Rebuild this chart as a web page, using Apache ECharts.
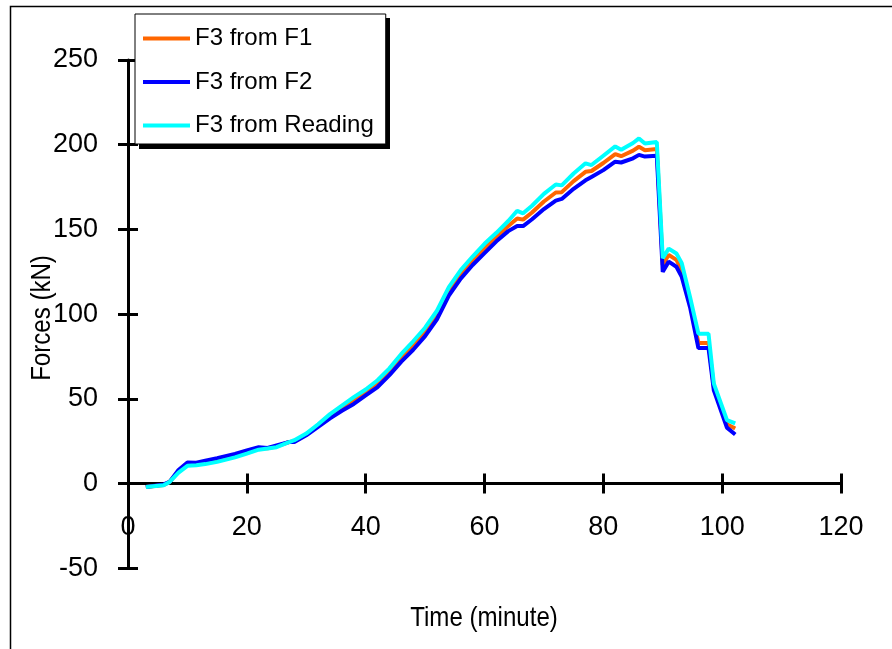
<!DOCTYPE html>
<html>
<head>
<meta charset="utf-8">
<script src="https://cdn.jsdelivr.net/npm/echarts@6/dist/echarts.min.js"></script>
<style>
html,body{margin:0;padding:0;background:#fff;}
#chart{width:892px;height:649px;}
</style>
</head>
<body>
<div id="chart"></div>
<script>
const timeMin = [3, 6, 7, 8.5, 10, 11.5, 13, 15, 18, 20, 22, 23.5, 25, 27, 28, 30, 32, 34, 36, 38, 40, 42, 44, 46, 48, 50, 52, 54, 56, 58, 60, 62, 64, 65.5, 66.5, 68, 70, 72, 73, 75, 77, 78, 80, 82, 83, 85, 86, 87, 89, 90, 91, 92.3, 93.2, 94.6, 96, 97.7, 98.6, 100.8, 102.2];
const f3FromF1 = [-2, -0.8, 1, 7.2, 11.5, 11.6, 12.5, 14, 16.5, 18.6, 20.8, 20.8, 22, 24.4, 25, 29, 34.2, 39.8, 44.5, 49, 53.8, 59, 66, 74.2, 81.5, 89.5, 99.5, 113.5, 123.5, 131.5, 138.8, 145.5, 152, 156.5, 155.8, 160, 166.5, 171.8, 172, 178.5, 184, 184.5, 189.2, 194.5, 193.2, 196.5, 198.8, 196.8, 197.5, 129, 135, 132, 126, 107, 83, 83, 57, 35, 32.5];
const f3FromF2 = [-2, -0.5, 1, 8, 12.5, 12.3, 13.5, 15, 17.5, 19.5, 21.5, 21, 22.5, 24.5, 24.5, 28.5, 33.5, 38.5, 43, 47, 52, 57, 64, 72, 79, 87, 97, 111, 121, 129, 136, 143, 149, 152, 152, 156, 162, 167, 168, 174, 179, 181, 185, 190, 189.5, 192, 194, 193, 193.5, 125, 131, 128, 122, 104, 80, 80, 55, 33, 29];
const f3FromReading = [-2, -1, 1, 6.5, 10.5, 10.8, 11.5, 12.8, 15.5, 17.7, 20, 20.7, 21.5, 24.3, 25.6, 29.5, 35, 41, 46, 51, 55.5, 61, 68, 76.5, 84, 92, 102, 116, 126, 134, 141.5, 148, 155, 161, 159.5, 164, 171, 176.5, 176, 183, 189, 188, 193.5, 199, 197, 201, 203.7, 200.7, 201.6, 133, 138.7, 135.8, 130, 110, 88.5, 88.5, 59, 37.5, 35.5];
const seriesNames = ['F3 from F1', 'F3 from F2', 'F3 from Reading'];
const seriesColors = ['#FF6600', '#0000FF', '#00FFFF'];
const xTitle = 'Time (minute)';
const yTitle = 'Forces (kN)';

const FONT = '"Liberation Sans", Arial, sans-serif';
const chart = echarts.init(document.getElementById('chart'), null, {renderer: 'canvas'});

function pairs(ys) { return timeMin.map((t, i) => [t, ys[i]]); }

const axisLineStyle = {color: '#000', width: 3};
const tickStyle = {color: '#000', width: 3};

const option = {
  animation: false,
  backgroundColor: '#fff',
  grid: {left: 128, right: 51, top: 60, bottom: 80.7, containLabel: false},
  xAxis: [
    {
      type: 'value', min: 0, max: 120, interval: 20, position: 'bottom',
      axisLine: {show: true, onZero: true, lineStyle: axisLineStyle},
      axisTick: {show: true, inside: false, length: 10, lineStyle: tickStyle},
      axisLabel: {show: true, margin: -54, color: '#000', fontSize: 27, fontFamily: FONT},
      splitLine: {show: false}
    },
    {
      type: 'value', min: 0, max: 120, interval: 20, position: 'bottom',
      axisLine: {show: true, onZero: true, onZeroAxisIndex: 0, lineStyle: {color: '#000', width: 3, opacity: 0}},
      axisTick: {show: true, inside: true, length: 10, lineStyle: tickStyle},
      axisLabel: {show: false},
      splitLine: {show: false}
    }
  ],
  yAxis: [
    {
      type: 'value', min: -50, max: 250, interval: 50, position: 'left',
      axisLine: {show: true, onZero: false, lineStyle: axisLineStyle},
      axisTick: {show: true, inside: false, length: 10, lineStyle: tickStyle},
      axisLabel: {show: true, margin: 30, color: '#000', fontSize: 27, fontFamily: FONT},
      splitLine: {show: false}
    },
    {
      type: 'value', min: -50, max: 250, interval: 50, position: 'left',
      axisLine: {show: true, onZero: false, lineStyle: {color: '#000', width: 3, opacity: 0}},
      axisTick: {show: true, inside: true, length: 10, lineStyle: tickStyle},
      axisLabel: {show: false},
      splitLine: {show: false}
    }
  ],
  legend: {
    orient: 'vertical',
    left: 135, top: 14,
    padding: [12, 12, 6, 8],
    itemGap: 18.5,
    itemWidth: 47, itemHeight: 4,
    icon: 'rect',
    backgroundColor: '#fff',
    borderColor: '#000', borderWidth: 1,
    z: 10,
    textStyle: {color: '#000', fontSize: 24, lineHeight: 25, fontFamily: FONT},
    data: seriesNames
  },
  graphic: [
    {type: 'rect', left: 8, top: 4, shape: {x: 0, y: 0, width: 900, height: 700}, style: {fill: 'none', stroke: '#000', lineWidth: 1.5}, z: -1, silent: true},
    {type: 'rect', x: 139, y: 18, shape: {x: 0, y: 0, width: 251, height: 131}, style: {fill: '#000'}, z: 1, silent: true},
    {type: 'text', x: 484, y: 618, scaleX: 0.86, style: {text: xTitle, fill: '#000', fontSize: 28, fontFamily: FONT, align: 'center', verticalAlign: 'middle'}},
    {type: 'text', x: 42, y: 318, rotation: Math.PI / 2, scaleX: 0.86, style: {text: yTitle, fill: '#000', fontSize: 28, fontFamily: FONT, align: 'center', verticalAlign: 'middle'}}
  ],
  series: [0, 1, 2].map(k => ({
    name: seriesNames[k],
    type: 'line',
    xAxisIndex: 0, yAxisIndex: 0,
    data: pairs([f3FromF1, f3FromF2, f3FromReading][k]),
    showSymbol: false, symbol: 'none',
    lineStyle: {color: seriesColors[k], width: 4},
    itemStyle: {color: seriesColors[k]},
    z: 2 + k
  }))
};
chart.setOption(option);
</script>
</body>
</html>
